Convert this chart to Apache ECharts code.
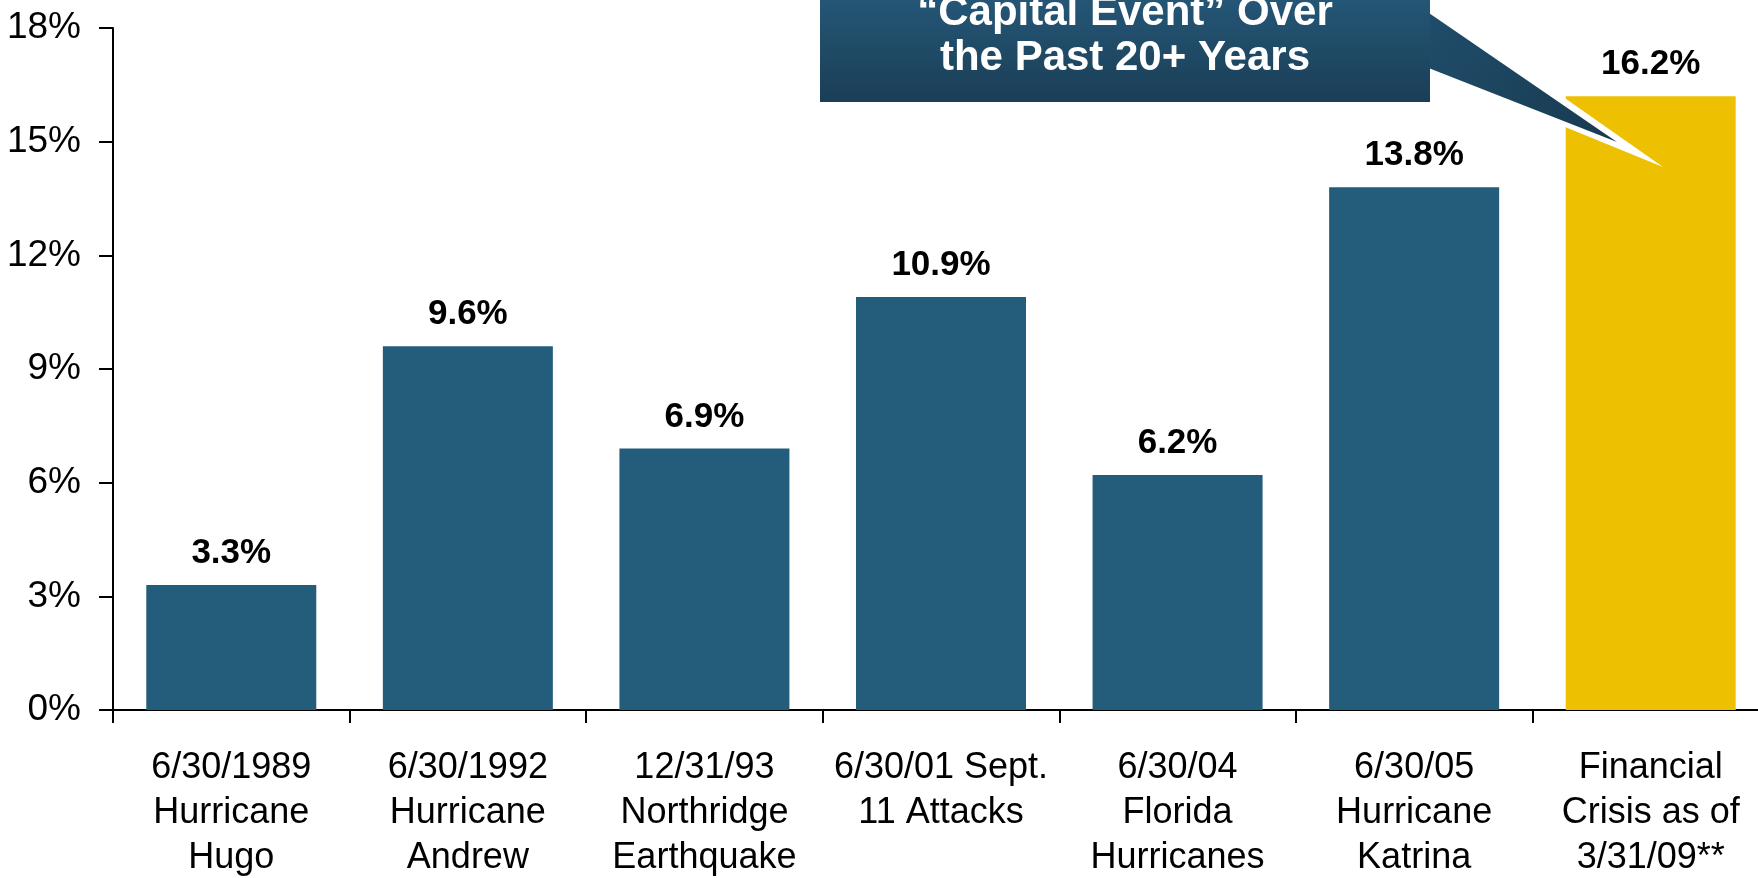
<!DOCTYPE html>
<html>
<head>
<meta charset="utf-8">
<script src="https://cdn.jsdelivr.net/npm/echarts@6/dist/echarts.min.js"></script>
<style>
html,body{margin:0;padding:0;background:#fff;}
#chart{width:1758px;height:878px;}
</style>
</head>
<body>
<div id="chart"></div>
<script>
var categories = [
  '6/30/1989\nHurricane\nHugo',
  '6/30/1992\nHurricane\nAndrew',
  '12/31/93\nNorthridge\nEarthquake',
  '6/30/01 Sept.\n11 Attacks',
  '6/30/04\nFlorida\nHurricanes',
  '6/30/05\nHurricane\nKatrina',
  'Financial\nCrisis as of\n3/31/09**'
];
var values = [3.3, 9.6, 6.9, 10.9, 6.2, 13.8, 16.2];
var barColors = ['#245C7B', '#245C7B', '#245C7B', '#245C7B', '#245C7B', '#245C7B', '#EDC102'];
var calloutText = '\u201CCapital Event\u201D Over\nthe Past 20+ Years';

var FONT = '"Liberation Sans", Arial, sans-serif';
var chart = echarts.init(document.getElementById('chart'), null, {renderer: 'canvas'});

chart.setOption({
  animation: false,
  backgroundColor: '#ffffff',
  grid: {left: 113, right: -11, top: 28, bottom: 168, containLabel: false, outerBoundsMode: 'none'},
  xAxis: {
    type: 'category',
    data: categories,
    axisLine: {lineStyle: {color: '#000', width: 2}},
    axisTick: {show: true, length: 13, lineStyle: {color: '#000', width: 2}},
    axisLabel: {
      color: '#000', fontFamily: FONT, fontSize: 36, lineHeight: 45, margin: 36,
      interval: 0, align: 'center'
    }
  },
  yAxis: {
    type: 'value',
    min: 0, max: 18, interval: 3,
    axisLine: {show: true, lineStyle: {color: '#000', width: 2}},
    axisTick: {show: true, length: 14, lineStyle: {color: '#000', width: 2}},
    splitLine: {show: false},
    axisLabel: {color: '#000', fontFamily: FONT, fontSize: 37, margin: 32, formatter: '{value}%'}
  },
  series: [{
    type: 'bar',
    data: values.map(function (v, i) { return {value: v, itemStyle: {color: barColors[i]}}; }),
    barWidth: 170,
    label: {
      show: true, position: 'top', distance: 14,
      color: '#000', fontFamily: FONT, fontSize: 35, fontWeight: 'bold',
      formatter: function (p) { return p.value.toFixed(1) + '%'; }
    }
  }],
  graphic: [
    {
      type: 'polygon', z: 100,
      shape: {points: [[1428, 2], [1428, 71], [1663, 167]]},
      style: {fill: '#ffffff'}
    },
    {
      type: 'polygon', z: 101,
      shape: {points: [[1426, 11], [1426, 67], [1617, 142]]},
      style: {fill: new echarts.graphic.LinearGradient(0, 0, 1, 1, [
        {offset: 0, color: '#204d6a'}, {offset: 1, color: '#183a50'}
      ])}
    },
    {
      type: 'rect', z: 102,
      shape: {x: 820, y: -30, width: 610, height: 132},
      style: {fill: new echarts.graphic.LinearGradient(0, 0, 0, 1, [
        {offset: 0, color: '#275d7f'}, {offset: 1, color: '#1b3e56'}
      ])}
    },
    {
      type: 'text', z: 103,
      x: 1125, y: 36,
      style: {
        text: calloutText, fill: '#fff', fontFamily: FONT, fontSize: 42, fontWeight: 'bold',
        lineHeight: 45, align: 'center', verticalAlign: 'middle'
      }
    }
  ]
});
</script>
</body>
</html>
